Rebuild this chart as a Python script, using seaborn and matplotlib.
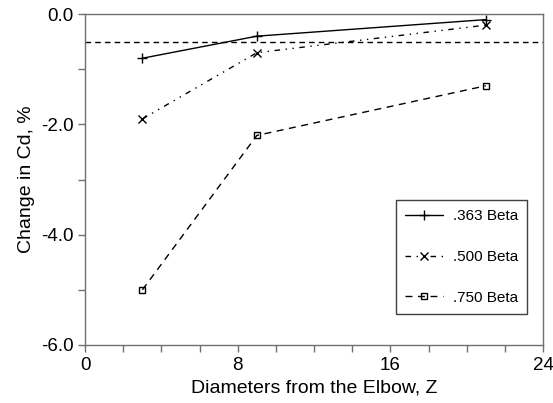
import matplotlib
matplotlib.use("Agg")
import matplotlib.pyplot as plt
import seaborn as sns
import pandas as pd

# distances from the elbow (diameters)
z = [3, 9, 21]
beta_363 = [-0.8, -0.4, -0.1]
beta_500 = [-1.9, -0.7, -0.2]
beta_750 = [-5.0, -2.2, -1.3]
labels = [".363 Beta", ".500 Beta", ".750 Beta"]
ref_level = -0.5

sns.set_style("ticks")
plt.rcParams['font.family'] = ['Liberation Sans', 'DejaVu Sans']
plt.rcParams['text.color'] = 'black'
plt.rcParams['axes.labelcolor'] = 'black'
plt.rcParams['xtick.labelcolor'] = 'black'
plt.rcParams['ytick.labelcolor'] = 'black'

df = pd.DataFrame({
    "z": z * 3,
    "cd": beta_363 + beta_500 + beta_750,
    "series": [labels[0]] * 3 + [labels[1]] * 3 + [labels[2]] * 3,
})

fig, ax = plt.subplots(figsize=(5.53, 4.03), dpi=100)
fig.subplots_adjust(left=0.154, right=0.982, top=0.965, bottom=0.144)

styles = {
    labels[0]: dict(ls='-', marker='+', ms=7),
    labels[1]: dict(ls=(0, (4, 4, 1, 4, 1, 4)), marker='x', ms=6),
    labels[2]: dict(ls=(0, (5, 4)), marker='s', ms=5, mfc='none'),
}
for name in labels:
    sub = df[df["series"] == name]
    st = styles[name]
    sns.lineplot(data=sub, x="z", y="cd", ax=ax, color='black', lw=1,
                 linestyle=st['ls'], marker=st['marker'], markersize=st['ms'],
                 markerfacecolor=st.get('mfc', 'black'), markeredgecolor='black',
                 markeredgewidth=1, label=name)

ax.axhline(ref_level, color='black', lw=1, ls=(0, (4, 3)))

ax.set_xlim(0, 24)
ax.set_ylim(-6, 0)
ax.set_xticks([0, 8, 16, 24])
ax.set_xticks(range(0, 25, 2), minor=True)
ax.set_yticks([0, -2, -4, -6])
ax.set_yticks([-1, -3, -5], minor=True)
ax.set_yticklabels(["0.0", "-2.0", "-4.0", "-6.0"])
ax.tick_params(which='both', direction='out', length=5, width=1, color='#707070',
               labelsize=13.5)
for s in ax.spines.values():
    s.set_color('#707070')
    s.set_linewidth(1)

ax.set_xlabel("Diameters from the Elbow, Z", fontsize=14)
ax.set_ylabel("Change in Cd, %", fontsize=14)

leg = ax.legend(loc='upper left', bbox_to_anchor=(0.679, 0.438), borderaxespad=0,
                fancybox=False, framealpha=1, edgecolor='#404040',
                fontsize=11, handlelength=2.5, labelspacing=1.75, borderpad=0.6,
                handletextpad=0.6)
leg.get_frame().set_linewidth(1)

fig.savefig("out.png", dpi=100)
